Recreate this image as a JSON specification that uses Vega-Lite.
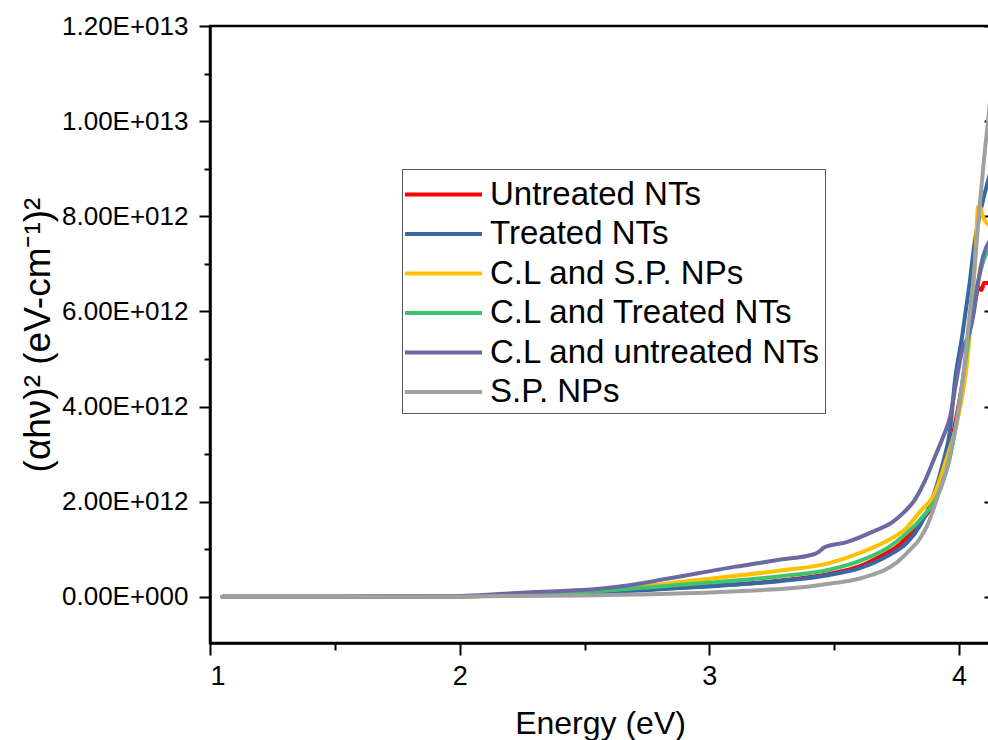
{
  "$schema": "https://vega.github.io/schema/vega-lite/v6.json",
  "width": 780,
  "height": 617,
  "autosize": {"type": "none"},
  "padding": {"left": 210, "top": 26, "right": 0, "bottom": 97},
  "background": "white",
  "config": {
    "font": "Liberation Sans",
    "view": {"stroke": "black", "strokeWidth": 2.5}
  },
  "data": {
    "values": [
      {"s": "Untreated NTs", "e": 1.05, "y": 0},
      {"s": "Untreated NTs", "e": 1.5, "y": 0},
      {"s": "Untreated NTs", "e": 2.0, "y": 0.01e12},
      {"s": "Untreated NTs", "e": 2.3, "y": 0.05e12},
      {"s": "Untreated NTs", "e": 2.6, "y": 0.11e12},
      {"s": "Untreated NTs", "e": 2.8, "y": 0.17e12},
      {"s": "Untreated NTs", "e": 3.0, "y": 0.23e12},
      {"s": "Untreated NTs", "e": 3.28, "y": 0.34e12},
      {"s": "Untreated NTs", "e": 3.48, "y": 0.48e12},
      {"s": "Untreated NTs", "e": 3.6, "y": 0.64e12},
      {"s": "Untreated NTs", "e": 3.68, "y": 0.84e12},
      {"s": "Untreated NTs", "e": 3.75, "y": 1.05e12},
      {"s": "Untreated NTs", "e": 3.8, "y": 1.3e12},
      {"s": "Untreated NTs", "e": 3.844, "y": 1.56e12},
      {"s": "Untreated NTs", "e": 3.9, "y": 2.0e12},
      {"s": "Untreated NTs", "e": 3.95, "y": 2.8e12},
      {"s": "Untreated NTs", "e": 3.99, "y": 3.8e12},
      {"s": "Untreated NTs", "e": 4.02, "y": 4.7e12},
      {"s": "Untreated NTs", "e": 4.04, "y": 5.5e12},
      {"s": "Untreated NTs", "e": 4.06, "y": 6.1e12},
      {"s": "Untreated NTs", "e": 4.08, "y": 6.5e12},
      {"s": "Untreated NTs", "e": 4.09, "y": 6.45e12},
      {"s": "Untreated NTs", "e": 4.1, "y": 6.6e12},
      {"s": "Untreated NTs", "e": 4.124, "y": 6.6e12},

      {"s": "Treated NTs", "e": 1.05, "y": 0},
      {"s": "Treated NTs", "e": 1.5, "y": 0},
      {"s": "Treated NTs", "e": 2.0, "y": 0.01e12},
      {"s": "Treated NTs", "e": 2.3, "y": 0.05e12},
      {"s": "Treated NTs", "e": 2.6, "y": 0.1e12},
      {"s": "Treated NTs", "e": 2.8, "y": 0.16e12},
      {"s": "Treated NTs", "e": 3.0, "y": 0.22e12},
      {"s": "Treated NTs", "e": 3.28, "y": 0.33e12},
      {"s": "Treated NTs", "e": 3.48, "y": 0.46e12},
      {"s": "Treated NTs", "e": 3.6, "y": 0.6e12},
      {"s": "Treated NTs", "e": 3.72, "y": 0.88e12},
      {"s": "Treated NTs", "e": 3.79, "y": 1.13e12},
      {"s": "Treated NTs", "e": 3.844, "y": 1.5e12},
      {"s": "Treated NTs", "e": 3.896, "y": 2.1e12},
      {"s": "Treated NTs", "e": 3.936, "y": 2.82e12},
      {"s": "Treated NTs", "e": 3.964, "y": 3.51e12},
      {"s": "Treated NTs", "e": 3.984, "y": 4.56e12},
      {"s": "Treated NTs", "e": 4.012, "y": 5.46e12},
      {"s": "Treated NTs", "e": 4.04, "y": 6.5e12},
      {"s": "Treated NTs", "e": 4.064, "y": 7.5e12},
      {"s": "Treated NTs", "e": 4.09, "y": 8.2e12},
      {"s": "Treated NTs", "e": 4.124, "y": 8.9e12},

      {"s": "C.L and S.P. NPs", "e": 1.05, "y": 0},
      {"s": "C.L and S.P. NPs", "e": 1.5, "y": 0},
      {"s": "C.L and S.P. NPs", "e": 2.0, "y": 0.01e12},
      {"s": "C.L and S.P. NPs", "e": 2.3, "y": 0.06e12},
      {"s": "C.L and S.P. NPs", "e": 2.69, "y": 0.19e12},
      {"s": "C.L and S.P. NPs", "e": 2.96, "y": 0.36e12},
      {"s": "C.L and S.P. NPs", "e": 3.28, "y": 0.55e12},
      {"s": "C.L and S.P. NPs", "e": 3.48, "y": 0.71e12},
      {"s": "C.L and S.P. NPs", "e": 3.6, "y": 0.92e12},
      {"s": "C.L and S.P. NPs", "e": 3.72, "y": 1.2e12},
      {"s": "C.L and S.P. NPs", "e": 3.79, "y": 1.45e12},
      {"s": "C.L and S.P. NPs", "e": 3.84, "y": 1.77e12},
      {"s": "C.L and S.P. NPs", "e": 3.9, "y": 2.15e12},
      {"s": "C.L and S.P. NPs", "e": 3.95, "y": 2.9e12},
      {"s": "C.L and S.P. NPs", "e": 3.984, "y": 3.5e12},
      {"s": "C.L and S.P. NPs", "e": 4.012, "y": 4.2e12},
      {"s": "C.L and S.P. NPs", "e": 4.032, "y": 4.92e12},
      {"s": "C.L and S.P. NPs", "e": 4.05, "y": 6.0e12},
      {"s": "C.L and S.P. NPs", "e": 4.066, "y": 7.2e12},
      {"s": "C.L and S.P. NPs", "e": 4.076, "y": 8.2e12},
      {"s": "C.L and S.P. NPs", "e": 4.085, "y": 8.2e12},
      {"s": "C.L and S.P. NPs", "e": 4.095, "y": 8.0e12},
      {"s": "C.L and S.P. NPs", "e": 4.124, "y": 7.8e12},

      {"s": "C.L and Treated NTs", "e": 1.05, "y": 0},
      {"s": "C.L and Treated NTs", "e": 1.5, "y": 0},
      {"s": "C.L and Treated NTs", "e": 2.0, "y": 0.01e12},
      {"s": "C.L and Treated NTs", "e": 2.3, "y": 0.06e12},
      {"s": "C.L and Treated NTs", "e": 2.6, "y": 0.14e12},
      {"s": "C.L and Treated NTs", "e": 2.8, "y": 0.22e12},
      {"s": "C.L and Treated NTs", "e": 3.0, "y": 0.3e12},
      {"s": "C.L and Treated NTs", "e": 3.28, "y": 0.43e12},
      {"s": "C.L and Treated NTs", "e": 3.48, "y": 0.57e12},
      {"s": "C.L and Treated NTs", "e": 3.6, "y": 0.75e12},
      {"s": "C.L and Treated NTs", "e": 3.72, "y": 1.05e12},
      {"s": "C.L and Treated NTs", "e": 3.79, "y": 1.34e12},
      {"s": "C.L and Treated NTs", "e": 3.85, "y": 1.66e12},
      {"s": "C.L and Treated NTs", "e": 3.924, "y": 2.25e12},
      {"s": "C.L and Treated NTs", "e": 3.964, "y": 2.94e12},
      {"s": "C.L and Treated NTs", "e": 3.996, "y": 3.87e12},
      {"s": "C.L and Treated NTs", "e": 4.024, "y": 4.92e12},
      {"s": "C.L and Treated NTs", "e": 4.04, "y": 5.5e12},
      {"s": "C.L and Treated NTs", "e": 4.06, "y": 6.2e12},
      {"s": "C.L and Treated NTs", "e": 4.084, "y": 6.8e12},
      {"s": "C.L and Treated NTs", "e": 4.1, "y": 7.1e12},
      {"s": "C.L and Treated NTs", "e": 4.124, "y": 7.3e12},

      {"s": "C.L and untreated NTs", "e": 1.05, "y": 0},
      {"s": "C.L and untreated NTs", "e": 1.5, "y": 0},
      {"s": "C.L and untreated NTs", "e": 2.0, "y": 0.02e12},
      {"s": "C.L and untreated NTs", "e": 2.16, "y": 0.06e12},
      {"s": "C.L and untreated NTs", "e": 2.3, "y": 0.1e12},
      {"s": "C.L and untreated NTs", "e": 2.56, "y": 0.17e12},
      {"s": "C.L and untreated NTs", "e": 2.7, "y": 0.26e12},
      {"s": "C.L and untreated NTs", "e": 2.83, "y": 0.38e12},
      {"s": "C.L and untreated NTs", "e": 2.96, "y": 0.5e12},
      {"s": "C.L and untreated NTs", "e": 3.1, "y": 0.63e12},
      {"s": "C.L and untreated NTs", "e": 3.2, "y": 0.71e12},
      {"s": "C.L and untreated NTs", "e": 3.28, "y": 0.78e12},
      {"s": "C.L and untreated NTs", "e": 3.415, "y": 0.89e12},
      {"s": "C.L and untreated NTs", "e": 3.44, "y": 0.95e12},
      {"s": "C.L and untreated NTs", "e": 3.46, "y": 1.04e12},
      {"s": "C.L and untreated NTs", "e": 3.55, "y": 1.15e12},
      {"s": "C.L and untreated NTs", "e": 3.655, "y": 1.37e12},
      {"s": "C.L and untreated NTs", "e": 3.736, "y": 1.58e12},
      {"s": "C.L and untreated NTs", "e": 3.78, "y": 1.78e12},
      {"s": "C.L and untreated NTs", "e": 3.82, "y": 2.02e12},
      {"s": "C.L and untreated NTs", "e": 3.86, "y": 2.4e12},
      {"s": "C.L and untreated NTs", "e": 3.9, "y": 2.9e12},
      {"s": "C.L and untreated NTs", "e": 3.936, "y": 3.36e12},
      {"s": "C.L and untreated NTs", "e": 3.964, "y": 3.78e12},
      {"s": "C.L and untreated NTs", "e": 3.99, "y": 4.56e12},
      {"s": "C.L and untreated NTs", "e": 4.016, "y": 5.25e12},
      {"s": "C.L and untreated NTs", "e": 4.03, "y": 5.4e12},
      {"s": "C.L and untreated NTs", "e": 4.044, "y": 5.6e12},
      {"s": "C.L and untreated NTs", "e": 4.06, "y": 6.0e12},
      {"s": "C.L and untreated NTs", "e": 4.076, "y": 6.6e12},
      {"s": "C.L and untreated NTs", "e": 4.096, "y": 7.15e12},
      {"s": "C.L and untreated NTs", "e": 4.124, "y": 7.5e12},

      {"s": "S.P. NPs", "e": 1.05, "y": 0},
      {"s": "S.P. NPs", "e": 1.5, "y": 0},
      {"s": "S.P. NPs", "e": 2.0, "y": 0.01e12},
      {"s": "S.P. NPs", "e": 2.5, "y": 0.03e12},
      {"s": "S.P. NPs", "e": 2.7, "y": 0.05e12},
      {"s": "S.P. NPs", "e": 3.0, "y": 0.09e12},
      {"s": "S.P. NPs", "e": 3.2, "y": 0.14e12},
      {"s": "S.P. NPs", "e": 3.3, "y": 0.17e12},
      {"s": "S.P. NPs", "e": 3.4, "y": 0.22e12},
      {"s": "S.P. NPs", "e": 3.5, "y": 0.29e12},
      {"s": "S.P. NPs", "e": 3.6, "y": 0.38e12},
      {"s": "S.P. NPs", "e": 3.65, "y": 0.46e12},
      {"s": "S.P. NPs", "e": 3.7, "y": 0.56e12},
      {"s": "S.P. NPs", "e": 3.75, "y": 0.72e12},
      {"s": "S.P. NPs", "e": 3.8, "y": 0.97e12},
      {"s": "S.P. NPs", "e": 3.84, "y": 1.2e12},
      {"s": "S.P. NPs", "e": 3.87, "y": 1.47e12},
      {"s": "S.P. NPs", "e": 3.92, "y": 2.2e12},
      {"s": "S.P. NPs", "e": 3.96, "y": 2.9e12},
      {"s": "S.P. NPs", "e": 3.99, "y": 3.66e12},
      {"s": "S.P. NPs", "e": 4.016, "y": 4.6e12},
      {"s": "S.P. NPs", "e": 4.04, "y": 5.8e12},
      {"s": "S.P. NPs", "e": 4.06, "y": 6.8e12},
      {"s": "S.P. NPs", "e": 4.084, "y": 8.3e12},
      {"s": "S.P. NPs", "e": 4.1, "y": 9.2e12},
      {"s": "S.P. NPs", "e": 4.124, "y": 10.4e12}
    ]
  },
  "layer": [
    {
      "mark": {"type": "line", "strokeWidth": 4, "strokeJoin": "round", "strokeCap": "round", "clip": true, "interpolate": "monotone"},
      "encoding": {
        "x": {
          "field": "e", "type": "quantitative",
          "scale": {"domain": [1, 4.124], "nice": false, "zero": false},
          "axis": {
            "orient": "bottom", "values": [1, 2, 3, 4], "format": "d",
            "title": "Energy (eV)", "grid": false,
            "domainColor": "black", "domainWidth": 2.5,
            "tickColor": "black", "tickWidth": 2, "tickSize": 12,
            "labelFont": "Liberation Sans", "labelFontSize": 27, "labelColor": "black", "labelPadding": 8,
            "titleFont": "Liberation Sans", "titleFontSize": 32, "titleFontWeight": "normal", "titleColor": "black", "titlePadding": 19
          }
        },
        "y": {
          "field": "y", "type": "quantitative",
          "scale": {"domain": [-0.97e12, 1.2e13], "nice": false, "zero": false},
          "axis": {
            "orient": "left",
            "values": [0, 2e12, 4e12, 6e12, 8e12, 1e13, 1.2e13],
            "labelExpr": "datum.value == 0 ? '0.00E+000' : replace(format(datum.value, '.2e'), 'e+', 'E+0')",
            "title": "(αhν)² (eV-cm⁻¹)²", "grid": false,
            "domainColor": "black", "domainWidth": 2.5,
            "tickColor": "black", "tickWidth": 2, "tickSize": 11,
            "labelFont": "Liberation Sans", "labelFontSize": 26, "labelColor": "black", "labelPadding": 11,
            "titleFont": "Liberation Sans", "titleFontSize": 37, "titleFontWeight": "normal", "titleColor": "black", "titlePadding": 4
          }
        },
        "color": {
          "field": "s", "type": "nominal",
          "scale": {
            "domain": ["Untreated NTs", "Treated NTs", "C.L and S.P. NPs", "C.L and Treated NTs", "C.L and untreated NTs", "S.P. NPs"],
            "range": ["#ff0000", "#3868a3", "#ffc000", "#3ec46e", "#6a6aa2", "#a0a0a0"]
          },
          "legend": {
            "orient": "none", "legendX": 192, "legendY": 143,
            "title": null, "symbolType": "M-2,0H2", "symbolSize": 1482, "symbolStrokeWidth": 4,
            "symbolOffset": 16,
            "labelFont": "Liberation Sans", "labelFontSize": 33, "labelColor": "black", "labelOffset": 25,
            "labelLimit": 600, "rowPadding": 0.5,
            "strokeColor": "#555555", "fillColor": "white", "padding": 4
          }
        }
      }
    },
    {
      "mark": {"type": "point", "opacity": 0},
      "encoding": {
        "x": {
          "field": "e", "type": "quantitative",
          "axis": {"orient": "bottom", "values": [1.5, 2.5, 3.5], "labels": false, "domain": false, "title": null, "grid": false, "tickColor": "black", "tickWidth": 2, "tickSize": 7}
        },
        "y": {
          "field": "y", "type": "quantitative",
          "axis": {"orient": "left", "values": [1e12, 3e12, 5e12, 7e12, 9e12, 1.1e13], "labels": false, "domain": false, "title": null, "grid": false, "tickColor": "black", "tickWidth": 2, "tickSize": 6}
        }
      }
    },
    {
      "mark": {"type": "point", "opacity": 0},
      "encoding": {
        "y": {
          "field": "y", "type": "quantitative",
          "axis": {"orient": "right", "values": [0, 2e12, 4e12, 6e12, 8e12, 1e13, 1.2e13], "labels": false, "domain": false, "title": null, "grid": false, "tickColor": "black", "tickWidth": 2, "tickSize": -6}
        }
      }
    }
  ],
  "resolve": {"axis": {"x": "independent", "y": "independent"}}
}
